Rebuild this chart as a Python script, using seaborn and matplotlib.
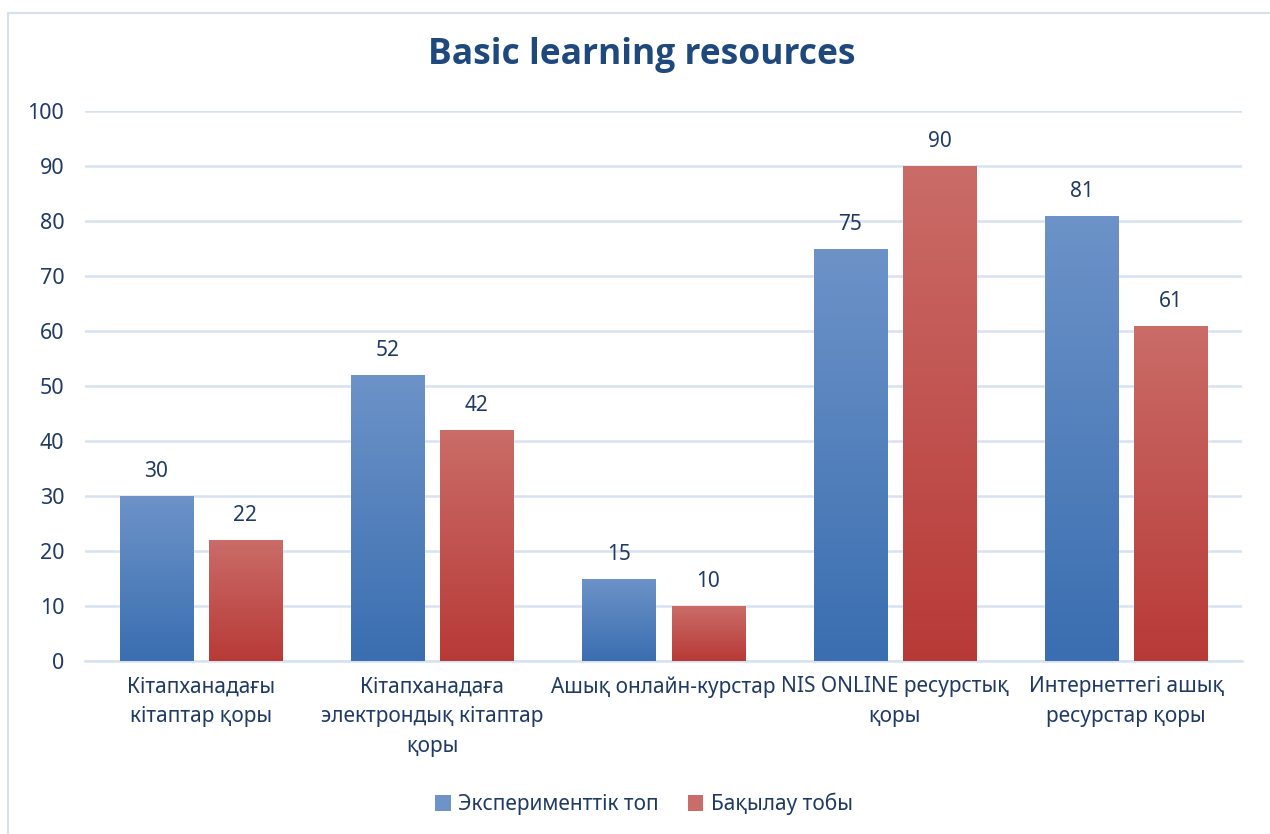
import numpy as np
import pandas as pd
import matplotlib
matplotlib.use("Agg")
import matplotlib.pyplot as plt
from matplotlib.colors import LinearSegmentedColormap
from matplotlib.patches import Patch
from matplotlib.lines import Line2D
import seaborn as sns

# --- data ---------------------------------------------------------------
categories = [
    "Кітапханадағы\nкітаптар қоры",
    "Кітапханадаға\nэлектрондық кітаптар\nқоры",
    "Ашық онлайн-курстар",
    "NIS ONLINE ресурстық\nқоры",
    "Интернеттегі ашық\nресурстар қоры",
]
groups = ["Эксперименттік топ", "Бақылау тобы"]
experimental = [30, 52, 15, 75, 81]
control = [22, 42, 10, 90, 61]
y_ticks = list(range(0, 101, 10))
title = "Basic learning resources"

# --- style --------------------------------------------------------------
sns.set_theme(style="white")
plt.rcParams["font.family"] = ["Noto Sans", "DejaVu Sans"]

TEXT = "#203a64"
TITLE = "#1f497d"
GRID = "#d6e1f1"
blue_top, blue_bot = "#6d93c8", "#3a6eb0"
red_top, red_bot = "#ca6c68", "#b83a37"

df = pd.DataFrame({
    "category": categories * 2,
    "group": [groups[0]] * len(categories) + [groups[1]] * len(categories),
    "value": experimental + control,
})

fig = plt.figure(figsize=(12.7, 8.34), dpi=100)
ax = fig.add_axes([85 / 1270, 1 - 661 / 834, (1242 - 85) / 1270, (661 - 111) / 834])

sns.barplot(
    data=df, x="category", y="value", hue="group",
    palette=[blue_bot, red_bot], width=0.77, gap=0.18,
    legend=False, ax=ax, saturation=1, zorder=3,
)

# vertical colour gradient on each bar, clipped to the bar shape
cmaps = [
    LinearSegmentedColormap.from_list("blue_grad", [blue_bot, blue_top]),
    LinearSegmentedColormap.from_list("red_grad", [red_bot, red_top]),
]
grad = np.linspace(0, 1, 256).reshape(-1, 1)
for container, cmap in zip(ax.containers, cmaps):
    for bar in container:
        x0, y0 = bar.get_x(), bar.get_y()
        w, h = bar.get_width(), bar.get_height()
        im = ax.imshow(grad, cmap=cmap, origin="lower", aspect="auto",
                       extent=[x0, x0 + w, y0, y0 + h], zorder=3.5,
                       interpolation="bilinear")
        im.set_clip_path(bar)
    ax.bar_label(container, padding=10, fontsize=15, color=TEXT, zorder=5)

ax.set_xlim(-0.5, len(categories) - 0.5)
ax.set_ylim(0, 100)
ax.set_yticks(y_ticks)
ax.set_yticklabels([str(t) for t in y_ticks])
ax.grid(axis="y", color=GRID, linewidth=1.8, zorder=0)
ax.set_axisbelow(True)
for side in ["top", "right", "left"]:
    ax.spines[side].set_visible(False)
ax.spines["bottom"].set_color(GRID)
ax.spines["bottom"].set_linewidth(1.8)
ax.tick_params(axis="y", length=0, pad=15, labelsize=15.5, labelcolor=TEXT)
ax.tick_params(axis="x", length=0, pad=11, labelsize=15, labelcolor=TEXT)
for lbl in ax.get_xticklabels():
    lbl.set_linespacing(1.55)
ax.set_xlabel("")
ax.set_ylabel("")

fig.text(0.505, 1 - 55 / 834, title, ha="center", va="center",
         fontsize=25.5, fontweight="bold", color=TITLE,
         family=["Open Sans", "Noto Sans", "DejaVu Sans"])

handles = [Patch(facecolor=blue_top, edgecolor="none"),
           Patch(facecolor=red_top, edgecolor="none")]
fig.legend(handles, groups, loc="center", bbox_to_anchor=(0.507, 1 - 804 / 834),
           ncol=2, frameon=False, fontsize=15, labelcolor=TEXT,
           handlelength=0.75, handleheight=0.75, handletextpad=0.35,
           columnspacing=1.4)

# chart-area frame
frame_color = "#d3e0f0"
fig.add_artist(Line2D([8 / 1270, 8 / 1270], [0, 1 - 13 / 834],
                      transform=fig.transFigure, color=frame_color, lw=1.5))
fig.add_artist(Line2D([8 / 1270, 1], [1 - 13 / 834, 1 - 13 / 834],
                      transform=fig.transFigure, color=frame_color, lw=1.5))

fig.savefig("out.png", dpi=100, facecolor="white")
